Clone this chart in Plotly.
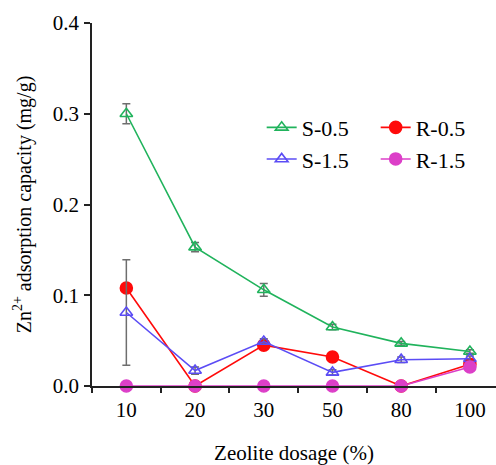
import plotly.graph_objects as go

dosage = ["10", "20", "30", "50", "80", "100"]
s05 = [0.300, 0.153, 0.106, 0.065, 0.047, 0.038]
s05_err = [0.011, 0.005, 0.007, 0.003, 0.002, 0.002]
s15 = [0.081, 0.017, 0.049, 0.015, 0.029, 0.030]
s15_err = [0.058, 0.004, 0.003, 0.003, 0.003, 0.003]
r05 = [0.108, 0.0, 0.045, 0.032, 0.0, 0.024]
r05_err = [0.004, 0.0, 0.003, 0.005, 0.0, 0.003]
r15 = [0.0, 0.0, 0.0, 0.0, 0.0, 0.021]
r15_err = [0.0, 0.0, 0.0, 0.0, 0.0, 0.002]

FONT = "Liberation Serif, Times New Roman, serif"
ERRC = "#6e6e6e"

def tr(name, y, err, color, symbol, size, legend):
    return go.Scatter(
        x=dosage, y=y, name=name, mode="lines+markers",
        line=dict(color=color, width=1.6),
        marker=dict(symbol=symbol, size=size, color=color,
                    line=dict(color=color, width=1.6)),
        error_y=dict(type="data", array=err, color=ERRC, thickness=1.5, width=4),
        cliponaxis=False, legend=legend,
    )

fig = go.Figure()
fig.add_trace(tr("S-0.5", s05, s05_err, "#20b35c", "triangle-up-open", 11, "legend"))
fig.add_trace(tr("R-0.5", r05, r05_err, "#ff0a0a", "circle", 12, "legend"))
fig.add_trace(tr("S-1.5", s15, s15_err, "#5b4cf5", "triangle-up-open", 11, "legend2"))
fig.add_trace(tr("R-1.5", r15, r15_err, "#dc3fc8", "circle", 12, "legend2"))

leg = dict(orientation="h", font=dict(family=FONT, size=22, color="black"),
           bgcolor="rgba(0,0,0,0)", xanchor="left", yanchor="middle",
           entrywidth=69, entrywidthmode="pixels", itemwidth=30)

fig.update_layout(
    template="none",
    width=496, height=465,
    margin=dict(l=92, r=0, t=23, b=79),
    paper_bgcolor="white", plot_bgcolor="white",
    font=dict(family=FONT, size=20, color="black"),
    showlegend=True,
    legend=dict(leg, x=0.42, y=0.712),
    legend2=dict(leg, x=0.42, y=0.625),
    xaxis=dict(
        type="category", range=[-0.5, 5.38], tickson="boundaries",
        ticks="outside", ticklen=5, tickwidth=1.5, tickcolor="#222",
        showline=True, linecolor="#222", linewidth=1.5, showgrid=False, zeroline=False,
        tickfont=dict(family=FONT, size=21, color="black"), ticklabelstandoff=4,
        title=dict(text="Zeolite dosage (%)", font=dict(family=FONT, size=21, color="black"), standoff=24),
    ),
    yaxis=dict(
        range=[0, 0.4], dtick=0.1, tickformat=".1f",
        ticks="outside", ticklen=6, tickwidth=1.5, tickcolor="#222",
        showline=True, linecolor="#222", linewidth=1.5, showgrid=False, zeroline=False,
        tickfont=dict(family=FONT, size=21, color="black"), ticklabelstandoff=1,
        title=dict(text="Zn<sup>2+</sup> adsorption capacity (mg/g)",
                   font=dict(family=FONT, size=20, color="black"), standoff=16),
    ),
)

fig.write_html("out.html")
